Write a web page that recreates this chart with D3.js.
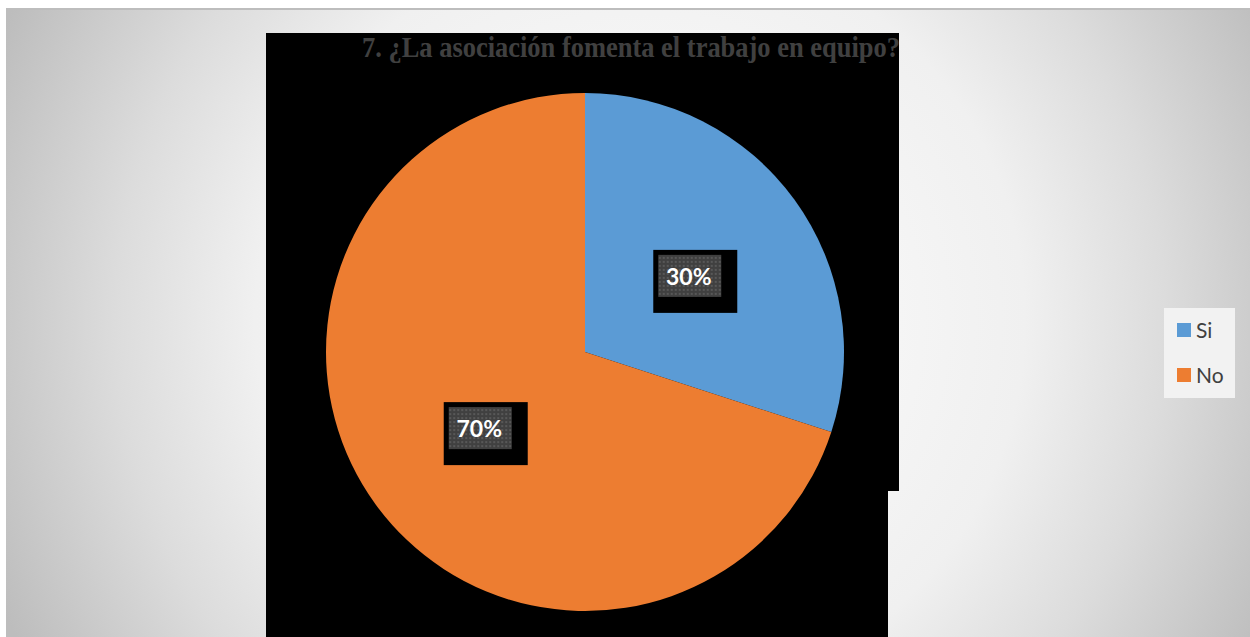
<!DOCTYPE html>
<html>
<head>
<meta charset="utf-8">
<script src="https://cdn.jsdelivr.net/npm/d3@7"></script>
<style>
  html, body { margin: 0; padding: 0; background: #ffffff; }
  svg { display: block; }
</style>
</head>
<body>
<svg id="chart" width="1250" height="637"></svg>
<script>
// Survey answers
const categories = ["Si", "No"];
const values = [30, 70];
const sliceColors = ["#5B9BD5", "#ED7D31"];
const titleText = "7. ¿La asociación fomenta el trabajo en equipo?";

const W = 1250, H = 637;
const svg = d3.select("#chart");
const defs = svg.append("defs");

// Slide background: soft radial grey gradient
const bg = defs.append("radialGradient")
  .attr("id", "bgGrad")
  .attr("gradientUnits", "userSpaceOnUse")
  .attr("cx", 640).attr("cy", 320).attr("r", 700);
[[0, "#ffffff"], [0.55, "#f0f0f0"], [0.75, "#dcdcdc"], [1, "#bdbdbd"]]
  .forEach(([o, c]) => bg.append("stop").attr("offset", o).attr("stop-color", c));

// Dotted fill for the data label boxes
const pat = defs.append("pattern")
  .attr("id", "dots")
  .attr("patternUnits", "userSpaceOnUse")
  .attr("width", 4).attr("height", 4);
pat.append("rect").attr("width", 4).attr("height", 4).attr("fill", "#404040");
pat.append("rect").attr("x", 1).attr("y", 1).attr("width", 2).attr("height", 2).attr("fill", "#585858");

svg.append("rect").attr("width", W).attr("height", H).attr("fill", "#ffffff");
svg.append("rect").attr("x", 6).attr("y", 8).attr("width", W - 6).attr("height", 2).attr("fill", "#bdbdbd");
svg.append("rect").attr("x", 6).attr("y", 10).attr("width", W - 6).attr("height", H - 10).attr("fill", "url(#bgGrad)");

// Chart area fill
svg.append("rect").attr("x", 266).attr("y", 33).attr("width", 633).attr("height", 458).attr("fill", "#000000");
svg.append("rect").attr("x", 266).attr("y", 490).attr("width", 622).attr("height", H - 490).attr("fill", "#000000");

// Title
svg.append("text")
  .attr("x", 362).attr("y", 57)
  .attr("textLength", 538)
  .attr("lengthAdjust", "spacingAndGlyphs")
  .attr("font-family", "'Liberation Serif', 'Times New Roman', serif")
  .attr("font-weight", "bold")
  .attr("font-size", 30)
  .attr("fill", "#404040")
  .text(titleText);

// Pie
const cx = 585, cy = 352, radius = 259;
const pie = d3.pie().sort(null).value(d => d.value);
const arc = d3.arc().innerRadius(0).outerRadius(radius);
const data = categories.map((c, i) => ({ name: c, value: values[i], color: sliceColors[i] }));
const arcs = pie(data);
const total = d3.sum(values);

const g = svg.append("g").attr("transform", `translate(${cx},${cy})`);
g.selectAll("path.slice")
  .data(arcs)
  .join("path")
  .attr("class", "slice")
  .attr("d", arc)
  .attr("fill", d => d.data.color);

// Data labels
const boxW = 63, boxH = 42;
const lbl = g.selectAll("g.label")
  .data(arcs)
  .join("g")
  .attr("class", "label")
  .attr("transform", d => {
    const [x, y] = arc.centroid(d);
    return `translate(${x},${y})`;
  });
lbl.append("rect")
  .attr("x", -boxW / 2 - 5).attr("y", -boxH / 2 - 5)
  .attr("width", boxW + 21).attr("height", boxH + 21)
  .attr("fill", "#000000");
lbl.append("rect")
  .attr("x", -boxW / 2).attr("y", -boxH / 2)
  .attr("width", boxW).attr("height", boxH)
  .attr("fill", "url(#dots)");
lbl.append("text")
  .attr("x", -1).attr("y", 9)
  .attr("text-anchor", "middle")
  .attr("font-family", "Lato, 'Open Sans', sans-serif")
  .attr("font-weight", "bold")
  .attr("font-size", 23)
  .attr("fill", "#ffffff")
  .text(d => d3.format(".0%")(d.data.value / total));

// Legend
const legend = svg.append("g");
legend.append("rect")
  .attr("x", 1164).attr("y", 308).attr("width", 71).attr("height", 90)
  .attr("fill", "#f2f2f2");
const ly = d3.scalePoint().domain(categories).range([330, 375]);
const item = legend.selectAll("g.item")
  .data(data)
  .join("g")
  .attr("class", "item")
  .attr("transform", d => `translate(1177,${ly(d.name)})`);
item.append("rect")
  .attr("x", 0).attr("y", -7).attr("width", 14).attr("height", 14)
  .attr("fill", d => d.color);
item.append("text")
  .attr("x", 19).attr("y", 7.5)
  .attr("font-family", "Lato, 'Open Sans', sans-serif")
  .attr("font-size", 21)
  .attr("fill", "#404040")
  .text(d => d.name);
</script>
</body>
</html>
